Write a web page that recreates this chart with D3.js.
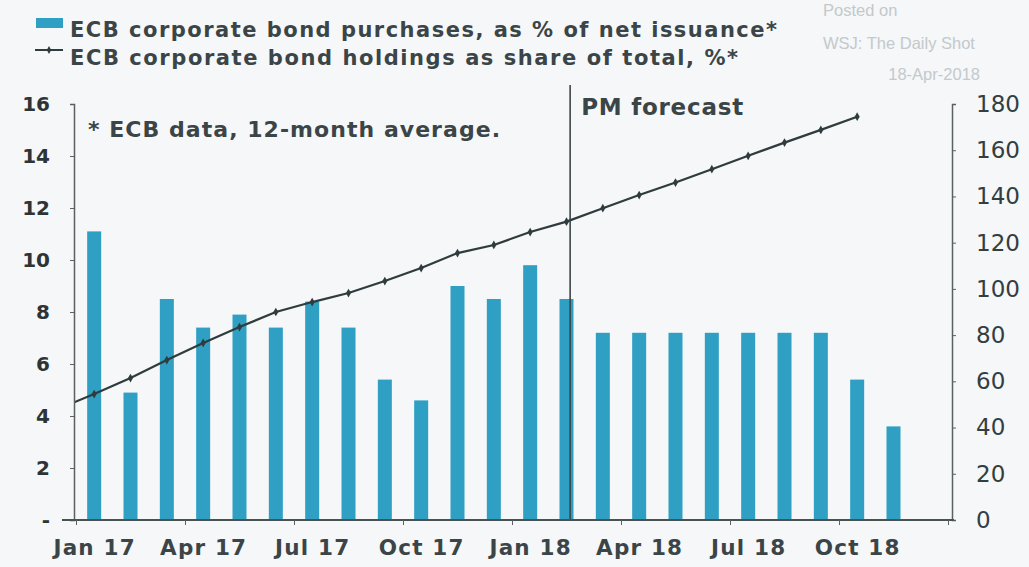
<!DOCTYPE html>
<html>
<head>
<meta charset="utf-8">
<script src="https://cdn.jsdelivr.net/npm/d3@7"></script>
<style>
  body { margin: 0; background: #f5f7f8; }
  svg { display: block; font-family: "DejaVu Sans", sans-serif; }
</style>
</head>
<body>
<svg width="1029" height="567"></svg>
<script>
// ECB corporate bond purchases vs holdings, Jan 17 - Nov 18 (monthly)
const quarterLabels = ["Jan 17", "Apr 17", "Jul 17", "Oct 17", "Jan 18", "Apr 18", "Jul 18", "Oct 18"];

// bars: % of net issuance, Jan 17 .. Nov 18
const purchases = [11.1, 4.9, 8.5, 7.4, 7.9, 7.4, 8.4, 7.4, 5.4, 4.6, 9.0, 8.5,
                   9.8, 8.5, 7.2, 7.2, 7.2, 7.2, 7.2, 7.2, 7.2, 5.4, 3.6];

// line: holdings as share of total (right axis), Dec 16 .. Oct 18
const holdings = [48, 54.5, 61.4, 69.2, 76.6, 83.5, 90.0, 94.3, 98.2, 103.4, 109.0, 115.5, 119.0,
                  124.6, 129.1, 134.9, 140.6, 146.0, 151.8, 157.6, 163.3, 168.8, 174.5];
const holdingsStart = -1; // first point is Dec 16 (month index -1)

const leftTicks = [0, 2, 4, 6, 8, 10, 12, 14, 16];
const rightTicks = [0, 20, 40, 60, 80, 100, 120, 140, 160, 180];
const forecastMonth = 13.6; // PM forecast starts at Feb 18

const svg = d3.select("svg");
const margin = { top: 104, left: 76, bottom: 47, right: 79 };
const width = +svg.attr("width");
const height = +svg.attr("height");
const plotLeft = 74, plotRight = width - margin.right;
const bottom = height - margin.bottom;

const barColor = "#2f9fc4";
const ink = "#2f3b3d";
const textInk = "#3b4547";

// month index scale, 24 months Jan 17 .. Dec 18
const x = d3.scaleLinear().domain([0, 24]).range([margin.left, width - margin.right - 2]);
const yL = d3.scaleLinear().domain([0, 16]).range([bottom, margin.top]);
const yR = d3.scaleLinear().domain([0, 180]).range([bottom, margin.top]);
const barW = 14;

svg.append("defs").append("clipPath").attr("id", "plot")
  .append("rect").attr("x", plotLeft).attr("y", 0).attr("width", plotRight - plotLeft).attr("height", bottom);

// bars
svg.append("g").selectAll("rect").data(purchases).join("rect")
  .attr("x", (d, i) => x(i + 0.5) - barW / 2)
  .attr("y", d => yL(d))
  .attr("width", barW)
  .attr("height", d => yL(0) - yL(d))
  .attr("fill", barColor);

// forecast divider
svg.append("line")
  .attr("x1", x(forecastMonth)).attr("x2", x(forecastMonth))
  .attr("y1", 85).attr("y2", bottom)
  .attr("stroke", "#3c4547").attr("stroke-width", 1.6);

svg.append("text").attr("x", x(forecastMonth) + 11).attr("y", 115)
  .attr("font-size", 23).attr("font-weight", "bold").attr("fill", textInk)
  .attr("textLength", 162).attr("lengthAdjust", "spacing").text("PM forecast");

svg.append("text").attr("x", 88).attr("y", 137)
  .attr("font-size", 22).attr("font-weight", "bold").attr("fill", textInk)
  .attr("textLength", 412).attr("lengthAdjust", "spacing").text("* ECB data, 12-month average.");

// holdings line
const line = d3.line()
  .x((d, i) => x(i + holdingsStart + 0.5))
  .y(d => yR(d));

const lineG = svg.append("g").attr("clip-path", "url(#plot)");
lineG.append("path").datum(holdings)
  .attr("d", line).attr("fill", "none")
  .attr("stroke", ink).attr("stroke-width", 2.2);

lineG.selectAll("path.mk").data(holdings).join("path")
  .attr("class", "mk")
  .attr("d", d3.symbol(d3.symbolDiamond, 22))
  .attr("transform", (d, i) => `translate(${x(i + holdingsStart + 0.5)},${yR(d)})`)
  .attr("fill", ink);

// axes
const axisColor = "#5a6163";

const gL = svg.append("g").attr("transform", `translate(${plotLeft},0)`)
  .call(d3.axisLeft(yL).tickValues(leftTicks).tickSize(4).tickPadding(20)
    .tickFormat(d => d === 0 ? "-" : d));
gL.select(".domain").attr("stroke", axisColor).attr("stroke-width", 1.5);
gL.selectAll(".tick line").attr("stroke", axisColor);
gL.selectAll("text").attr("font-size", 20).attr("font-weight", "bold").attr("fill", "#2e3436")
  .attr("font-family", "DejaVu Sans");

const gR = svg.append("g").attr("transform", `translate(${width - margin.right - 2 + 4},0)`)
  .call(d3.axisRight(yR).tickValues(rightTicks).tickSize(4).tickPadding(20));
gR.select(".domain").attr("stroke", axisColor).attr("stroke-width", 1.5);
gR.selectAll(".tick line").attr("stroke", axisColor);
gR.selectAll("text").attr("font-size", 23).attr("fill", "#343d3f")
  .attr("font-family", "DejaVu Sans");

const gX = svg.append("g").attr("transform", `translate(0,${bottom})`)
  .call(d3.axisBottom(x).tickValues(d3.range(0, 25, 3)).tickSize(5).tickFormat(""));
gX.select(".domain").attr("d", `M62,0H${x(24) + 6}`)
  .attr("stroke", "#4a5153").attr("stroke-width", 2);
gX.selectAll(".tick line").attr("stroke", axisColor);

// quarter labels centred under the month's bar
svg.append("g").attr("transform", `translate(0,${bottom})`)
  .call(d3.axisBottom(x).tickValues(d3.range(0.5, 24, 3)).tickSize(0).tickPadding(20)
    .tickFormat((d, i) => quarterLabels[i]))
  .call(g => g.select(".domain").remove())
  .selectAll("text").attr("font-size", 21.5).attr("font-weight", "bold").attr("font-family", "DejaVu Sans")
  .attr("letter-spacing", 1.2).attr("fill", textInk);

// legend
const legend = svg.append("g").attr("fill", textInk).attr("font-size", 21).attr("font-weight", "bold");
legend.append("rect").attr("x", 36).attr("y", 18).attr("width", 27).attr("height", 10).attr("fill", barColor);
legend.append("text").attr("x", 70).attr("y", 37)
  .attr("textLength", 707).attr("lengthAdjust", "spacing")
  .text("ECB corporate bond purchases, as % of net issuance*");
legend.append("line").attr("x1", 35).attr("x2", 63).attr("y1", 50).attr("y2", 50)
  .attr("stroke", ink).attr("stroke-width", 2);
legend.append("path").attr("d", d3.symbol(d3.symbolDiamond, 18)).attr("transform", "translate(49,50)").attr("fill", ink);
legend.append("text").attr("x", 70).attr("y", 65)
  .attr("textLength", 668).attr("lengthAdjust", "spacing")
  .text("ECB corporate bond holdings as share of total, %*");

// watermark
const wm = svg.append("g").attr("fill", "#c3c9cc").attr("font-family", "Liberation Sans").attr("font-size", 16.5);
wm.append("text").attr("x", 823).attr("y", 16).text("Posted on");
wm.append("text").attr("x", 823).attr("y", 49).text("WSJ: The Daily Shot");
wm.append("text").attr("x", 980).attr("y", 80).attr("text-anchor", "end").text("18-Apr-2018");
</script>
</body>
</html>
